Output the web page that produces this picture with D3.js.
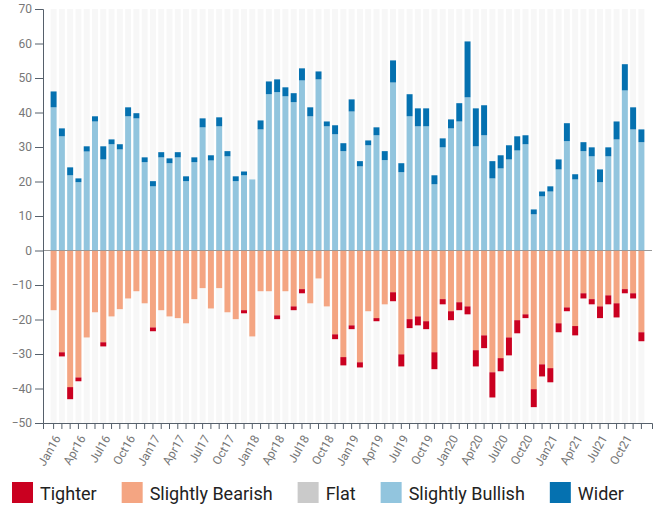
<!DOCTYPE html>

<head>
    <meta charset="utf-8">

    <style>
        body {
            margin: 0;
            font-family: 'Roboto', sans-serif;
        }

        .axis text {
            font-family: 'Roboto', sans-serif;
            font-size: 12px;
            fill: #777;
        }

        .axis path,
        .axis line {
            stroke: #56606b;
        }

        .legend text {
            font-size: 18px;
            fill: #222;
        }
    </style>

    <script src="https://d3js.org/d3.v7.min.js"></script>
</head>

<body>
    <script>
        ////////////// Data //////////////

        const months = [
            "Jan16", "Feb16", "Mar16", "Apr16", "May16", "Jun16", "Jul16", "Aug16", "Sep16", "Oct16", "Nov16", "Dec16",
            "Jan17", "Feb17", "Mar17", "Apr17", "May17", "Jun17", "Jul17", "Aug17", "Sep17", "Oct17", "Nov17", "Dec17",
            "Jan18", "Feb18", "Mar18", "Apr18", "May18", "Jun18", "Jul18", "Aug18", "Sep18", "Oct18", "Nov18", "Dec18",
            "Jan19", "Feb19", "Mar19", "Apr19", "May19", "Jun19", "Jul19", "Aug19", "Sep19", "Oct19", "Nov19", "Dec19",
            "Jan20", "Feb20", "Mar20", "Apr20", "May20", "Jun20", "Jul20", "Aug20", "Sep20", "Oct20", "Nov20", "Dec20",
            "Jan21", "Feb21", "Mar21", "Apr21", "May21", "Jun21", "Jul21", "Aug21", "Sep21", "Oct21", "Nov21", "Dec21"
        ]

        //only every third month gets a label
        const tick_labels = [
            "Jan16", "Apr16", "Jul16", "Oct16", "Jan17", "Apr17", "Jul17", "Oct17",
            "Jan18", "Apr18", "Jul18", "Oct18", "Jan19", "Apr19", "Jul19", "Oct19",
            "Jan20", "Apr20", "Jul20", "Oct20", "Jan21", "Apr21", "Jul21", "Oct21"
        ]

        const y_ticks = [-50, -40, -30, -20, -10, 0, 10, 20, 30, 40, 50, 60, 70]

        const slightly_bullish = [
            41.5, 33.1, 21.8, 19.8, 28.7, 37.4, 26.4, 30.8, 29.3, 38.9, 38.3, 25.6,
            18.6, 27.0, 25.3, 27.0, 20.1, 25.6, 35.7, 26.1, 36.0, 27.3, 20.1, 21.8,
            20.6, 35.1, 45.3, 45.9, 44.7, 43.0, 49.3, 38.9, 49.6, 36.0, 33.7, 28.8,
            40.3, 24.4, 30.5, 33.4, 26.2, 48.7, 22.7, 38.9, 36.0, 36.0, 19.2, 29.9,
            35.4, 37.4, 44.4, 30.2, 33.4, 20.9, 23.8, 26.4, 29.0, 30.8, 10.5, 15.7,
            17.1, 23.5, 31.7, 20.6, 28.8, 27.3, 19.8, 27.3, 32.2, 46.4, 35.1, 31.4
        ]

        const wider = [
            4.6, 2.3, 2.3, 1.1, 1.5, 1.5, 3.8, 1.4, 1.5, 2.6, 1.5, 1.4,
            1.5, 1.5, 1.4, 1.5, 1.4, 1.4, 2.6, 1.5, 2.6, 1.5, 1.4, 1.1,
            0, 2.6, 3.7, 3.7, 2.6, 2.6, 3.5, 2.6, 2.3, 1.4, 2.6, 2.3,
            3.5, 1.5, 1.4, 2.3, 2.6, 6.4, 2.6, 6.4, 5.2, 5.2, 2.6, 2.6,
            2.6, 5.3, 16.2, 11.0, 8.7, 5.0, 3.8, 4.1, 4.1, 2.6, 1.4, 1.4,
            1.5, 2.9, 5.2, 1.5, 2.6, 2.6, 3.7, 2.6, 5.2, 7.6, 6.4, 3.7
        ]

        const flat = [
            0, 0, 0, 0, 0, 0, 0, 0, 0, 0, 0, 0,
            0, 0, 0, 0, 0, 0, 0, 0, 0, 0, 0, 0,
            0, 0, 0, 0, 0, 0, 0, 0, 0, 0, 0, 0,
            0, 0, 0, 0, 0, 0, 0, 0, 0, 0, 0, 0,
            0, 0, 0, 0, 0, 0, 0, 0, 0, 0, 0, 0,
            0, 0, 0, 0, 0, 0, 0, 0, 0, 0, 0, 0
        ]

        const slightly_bearish = [
            -17.3, -29.5, -39.6, -36.8, -25.2, -17.9, -26.6, -19.1, -17.0, -13.9, -11.8, -15.3,
            -22.3, -17.3, -19.1, -19.6, -21.1, -14.1, -10.9, -16.8, -10.9, -17.9, -19.9, -17.3,
            -24.9, -11.8, -11.8, -18.8, -11.8, -16.2, -11.2, -15.3, -8.1, -16.2, -24.3, -30.9,
            -21.7, -32.4, -17.6, -19.6, -15.6, -12.1, -30.1, -19.9, -19.1, -20.5, -29.5, -14.1,
            -17.6, -15.0, -16.2, -28.9, -24.6, -35.3, -31.2, -25.2, -20.2, -18.5, -40.2, -33.0,
            -34.1, -21.1, -16.5, -21.9, -12.4, -14.1, -16.2, -13.0, -15.3, -11.2, -12.4, -23.7
        ]

        const tighter = [
            0, -1.2, -3.5, -1.1, 0, 0, -1.2, 0, 0, 0, 0, 0,
            -1.1, 0, 0, 0, 0, 0, 0, 0, 0, 0, 0, -0.9,
            0, 0, 0, -1.1, 0, -1.1, -1.2, 0, 0, 0, -1.4, -2.4,
            -1.1, -1.5, 0, -0.9, 0, -2.6, -3.5, -2.6, -2.6, -2.3, -4.9, -1.5,
            -2.6, -2.3, -2.3, -4.7, -3.7, -7.3, -3.8, -5.2, -3.8, -1.1, -5.2, -3.5,
            -4.1, -2.6, -1.1, -2.7, -1.5, -1.5, -3.4, -2.6, -4.1, -1.2, -1.5, -2.6
        ]

        const series_names = ["Tighter", "Slightly Bearish", "Flat", "Slightly Bullish", "Wider"]
        const series_colors = ["#ca0020", "#f4a582", "#cacaca", "#92c5de", "#0571b0"]

        //Build the table that d3.stack needs
        let data = months.map((m, i) => ({
            month: m,
            "Tighter": tighter[i],
            "Slightly Bearish": slightly_bearish[i],
            "Flat": flat[i],
            "Slightly Bullish": slightly_bullish[i],
            "Wider": wider[i]
        }))

        ////////////// Create the SVG //////////////

        let margin = {
            top: 9,
            right: 3,
            bottom: 82,
            left: 43
        }
        let width = 655 - margin.left - margin.right,
            height = 505 - margin.top - margin.bottom

        let svg = d3.select("body")
            .append("svg")
            .attr("width", 655)
            .attr("height", 505)

        let g = svg.append("g")
            .attr("transform", "translate(" + margin.left + "," + margin.top + ")")

        ////////////// Create scales //////////////

        const x_scale = d3.scaleBand()
            .domain(months)
            .range([0, width])
            .paddingInner(0.28)
            .paddingOuter(0.92)

        const y_scale = d3.scaleLinear()
            .domain([-50, 70])
            .range([height, 0])

        const color_scale = d3.scaleOrdinal()
            .domain(series_names)
            .range(series_colors)

        ////////////// Stack the series //////////////

        //inner series first so the outer ones end up on the outside
        const stack = d3.stack()
            .keys(["Slightly Bearish", "Slightly Bullish", "Flat", "Tighter", "Wider"])
            .offset(d3.stackOffsetDiverging)

        const stacked = stack(data)

        ////////////// Background stripes //////////////

        g.append("g")
            .selectAll("rect")
            .data(months)
            .join("rect")
            .attr("x", d => x_scale(d))
            .attr("y", y_scale(70))
            .attr("width", x_scale.bandwidth())
            .attr("height", y_scale(-50) - y_scale(70))
            .attr("fill", "#f7f7f7")

        ////////////// Create bars //////////////

        g.append("g")
            .selectAll("g")
            .data(stacked)
            .join("g")
            .attr("fill", d => color_scale(d.key))
            .selectAll("rect")
            .data(d => d)
            .join("rect")
            .attr("x", d => x_scale(d.data.month))
            .attr("y", d => y_scale(d[1]))
            .attr("width", x_scale.bandwidth())
            .attr("height", d => y_scale(d[0]) - y_scale(d[1]))

        //Zero line
        g.append("line")
            .attr("x1", 0)
            .attr("x2", width)
            .attr("y1", y_scale(0))
            .attr("y2", y_scale(0))
            .attr("stroke", "#999")
            .attr("stroke-width", 1)

        ////////////// Create axes //////////////

        let x_axis = g.append("g")
            .attr("class", "axis x")
            .attr("transform", "translate(0," + height + ")")
            .call(d3.axisBottom(x_scale)
                .tickSize(6)
                .tickFormat(d => tick_labels.includes(d) ? d : "")
            )

        x_axis.selectAll("text")
            .attr("text-anchor", "end")
            .attr("x", 0)
            .attr("y", 0)
            .attr("dy", "0.35em")
            .attr("transform", "translate(4,13) rotate(-60)")

        let y_axis = g.append("g")
            .attr("class", "axis y")
            .call(d3.axisLeft(y_scale)
                .tickValues(y_ticks)
                .tickSize(8)
                .tickPadding(3)
            )

        ////////////// Create legend //////////////

        let legend = svg.append("g")
            .attr("class", "legend")
            .attr("transform", "translate(12,482)")

        let offset = 0
        series_names.forEach(name => {
            let item = legend.append("g")
                .attr("transform", "translate(" + offset + ",0)")

            item.append("rect")
                .attr("width", 21)
                .attr("height", 21)
                .attr("fill", color_scale(name))

            let label = item.append("text")
                .attr("x", 28)
                .attr("y", 18)
                .text(name)

            offset += 28 + label.node().getComputedTextLength() + 25
        })

    </script>
</body>
